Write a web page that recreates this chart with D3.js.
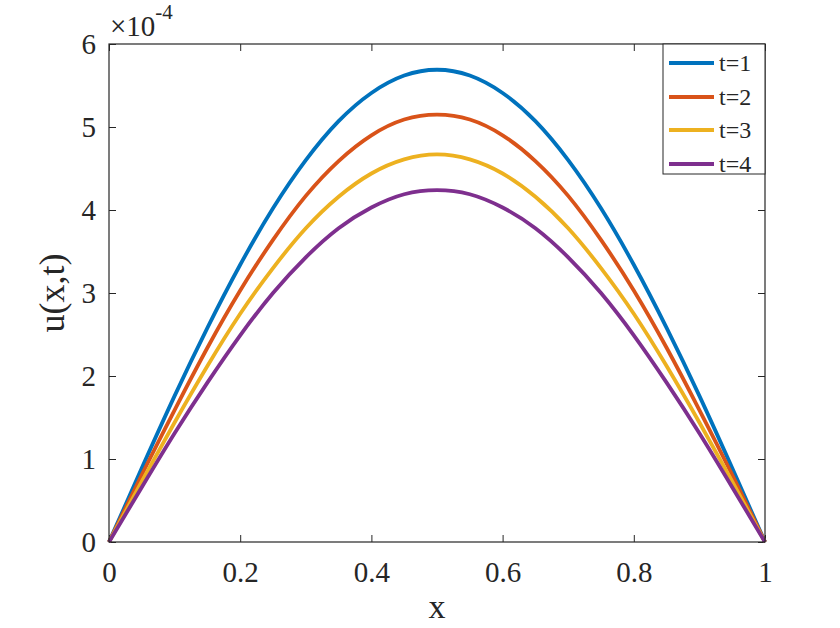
<!DOCTYPE html>
<html>
<head>
<meta charset="utf-8">
<script src="https://cdn.jsdelivr.net/npm/d3@7/dist/d3.min.js"></script>
<style>
  html, body { margin: 0; padding: 0; background: #fff; }
  svg { display: block; }
</style>
</head>
<body>
<svg id="chart" width="840" height="628"></svg>
<script>
// ---- data (u in units of 1e-4) ----
const xs = [0, 0.05, 0.1, 0.15, 0.2, 0.25, 0.3, 0.35, 0.4, 0.45, 0.5,
            0.55, 0.6, 0.65, 0.7, 0.75, 0.8, 0.85, 0.9, 0.95, 1];
const seriesNames = ["t=1", "t=2", "t=3", "t=4"];
const uT1 = [0, 0.89, 1.76, 2.58, 3.34, 4.02, 4.60, 5.07, 5.41, 5.62, 5.69,
             5.62, 5.41, 5.07, 4.60, 4.02, 3.34, 2.58, 1.76, 0.89, 0];
const uT2 = [0, 0.81, 1.59, 2.34, 3.03, 3.64, 4.17, 4.59, 4.90, 5.09, 5.15,
             5.09, 4.90, 4.59, 4.17, 3.64, 3.03, 2.34, 1.59, 0.81, 0];
const uT3 = [0, 0.73, 1.44, 2.12, 2.75, 3.30, 3.78, 4.16, 4.44, 4.61, 4.67,
             4.61, 4.44, 4.16, 3.78, 3.30, 2.75, 2.12, 1.44, 0.73, 0];
const uT4 = [0, 0.66, 1.31, 1.92, 2.49, 3.00, 3.43, 3.78, 4.03, 4.19, 4.24,
             4.19, 4.03, 3.78, 3.43, 3.00, 2.49, 1.92, 1.31, 0.66, 0];
const seriesColors = ["#0072BD", "#D95319", "#EDB120", "#7E2F8E"];
const xTicks = [0, 0.2, 0.4, 0.6, 0.8, 1];
const xTickLabels = ["0", "0.2", "0.4", "0.6", "0.8", "1"];
const yTicks = [0, 1, 2, 3, 4, 5, 6];
const yTickLabels = ["0", "1", "2", "3", "4", "5", "6"];

const allSeries = [uT1, uT2, uT3, uT4];

// ---- layout ----
const L = 109, R = 765, T = 44, B = 542;
const FONT = '"Liberation Serif"';
const INK = "#262626";
const svg = d3.select("#chart");

const x = d3.scaleLinear().domain([0, 1]).range([L, R]);
const y = d3.scaleLinear().domain([0, 6]).range([B, T]);

const tickFont = 29;

const gx = svg.append("g").attr("transform", `translate(0,${B})`)
  .call(d3.axisBottom(x).tickValues(xTicks).tickSize(-7).tickPadding(19)
        .tickFormat((d, i) => xTickLabels[i]));
const gxt = svg.append("g").attr("transform", `translate(0,${T})`)
  .call(d3.axisTop(x).tickValues(xTicks).tickSize(-7).tickFormat(""));
const gy = svg.append("g").attr("transform", `translate(${L},0)`)
  .call(d3.axisLeft(y).tickValues(yTicks).tickSize(-7).tickPadding(13)
        .tickFormat((d, i) => yTickLabels[i]));
const gyr = svg.append("g").attr("transform", `translate(${R},0)`)
  .call(d3.axisRight(y).tickValues(yTicks).tickSize(-7).tickFormat(""));

[gx, gxt, gy, gyr].forEach(g => {
  g.select(".domain").remove();
  g.selectAll(".tick line").attr("stroke", INK).attr("stroke-width", 1);
  g.selectAll(".tick text")
    .style("font-family", FONT).style("font-size", tickFont + "px")
    .attr("fill", INK);
});

const line = d3.line()
  .x((d, i) => x(xs[i]))
  .y(d => y(d))
  .curve(d3.curveNatural);

svg.append("g").selectAll("path")
  .data(allSeries)
  .join("path")
  .attr("d", d => line(d))
  .attr("fill", "none")
  .attr("stroke", (d, i) => seriesColors[i])
  .attr("stroke-width", 3.8)
  .attr("stroke-linejoin", "round");

svg.append("rect")
  .attr("x", L).attr("y", T).attr("width", R - L).attr("height", B - T)
  .attr("fill", "none").attr("stroke", INK).attr("stroke-width", 1.2);

// exponent label
const expo = svg.append("text").attr("x", L + 1).attr("y", 36)
  .style("font-family", FONT).style("font-size", "29px").attr("fill", INK);
expo.append("tspan").text("\u00d710");
expo.append("tspan").style("font-size", "21px").attr("dy", -17).text("-4");

// axis titles
svg.append("text")
  .attr("x", (L + R) / 2).attr("y", 618)
  .attr("text-anchor", "middle")
  .style("font-family", FONT).style("font-size", "34px").attr("fill", INK)
  .text("x");
svg.append("text")
  .attr("transform", `translate(64,${(T + B) / 2}) rotate(-90)`)
  .attr("text-anchor", "middle")
  .style("font-family", FONT).style("font-size", "36px").attr("fill", INK)
  .text("u(x,t)");

// legend
const legX = 663, legY = T, legW = R - 663, legH = 130;
svg.append("rect")
  .attr("x", legX).attr("y", legY).attr("width", legW).attr("height", legH)
  .attr("fill", "#fff").attr("stroke", INK).attr("stroke-width", 1);
const legRows = [63, 97, 130, 164];
const legend = svg.append("g").selectAll("g")
  .data(seriesNames)
  .join("g")
  .attr("transform", (d, i) => `translate(${legX},${legRows[i]})`);
legend.append("line")
  .attr("x1", 6).attr("x2", 51).attr("y1", 0).attr("y2", 0)
  .attr("stroke", (d, i) => seriesColors[i]).attr("stroke-width", 4);
legend.append("text")
  .attr("x", 56).attr("y", 0).attr("dy", "0.35em")
  .style("font-family", FONT).style("font-size", "24px").attr("fill", INK)
  .text(d => d);
</script>
</body>
</html>
